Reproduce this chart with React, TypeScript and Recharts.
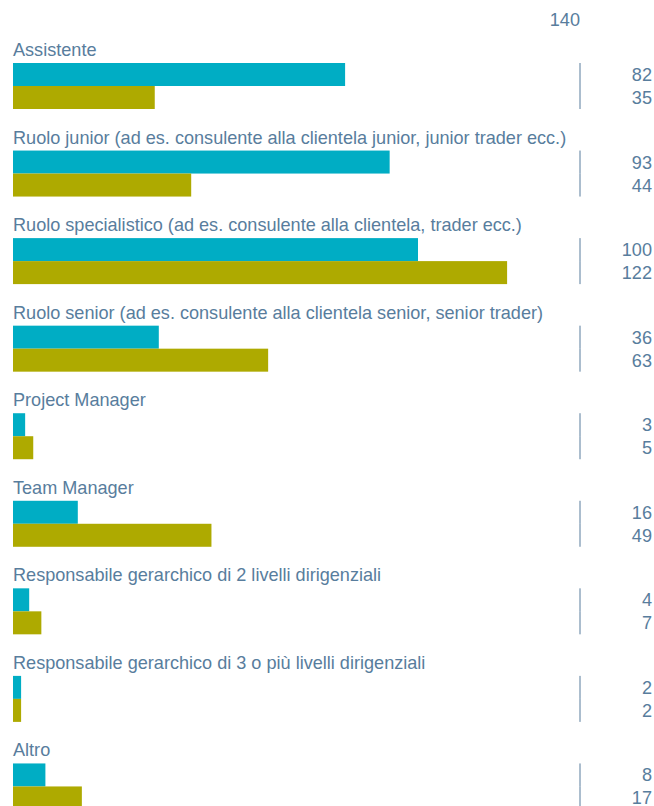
import { BarChart, Bar, XAxis, YAxis } from "recharts";

const categorie = [
    "Assistente",
    "Ruolo junior (ad es. consulente alla clientela junior, junior trader ecc.)",
    "Ruolo specialistico (ad es. consulente alla clientela, trader ecc.)",
    "Ruolo senior (ad es. consulente alla clientela senior, senior trader)",
    "Project Manager",
    "Team Manager",
    "Responsabile gerarchico di 2 livelli dirigenziali",
    "Responsabile gerarchico di 3 o più livelli dirigenziali",
    "Altro",
];

const serieA = [82, 93, 100, 36, 3, 16, 4, 2, 8];
const serieB = [35, 44, 122, 63, 5, 49, 7, 2, 17];

const assiTicks = [140];

const data = categorie.map((nome, i) => ({
    nome,
    a: serieA[i],
    b: serieB[i],
}));

const TESTO = "#587d9d";
const FONT = "'Liberation Sans', Arial, sans-serif";
const FS = 18.1;

// barra + tratto verticale a 140 + valore a destra (+ etichetta categoria sopra)
const makeShape = (fill: string, conEtichetta: boolean) => (props: any) => {
    const { x, y, width, height, value, background, payload } = props;
    const fine = background.x + background.width;
    return (
        <g>
            <rect x={x} y={y} width={width} height={height} fill={fill} />
            <line x1={fine} x2={fine} y1={y} y2={y + height} stroke={TESTO} strokeWidth={1} />
            <text
                x={fine + 72}
                y={y + height / 2 + 6.5}
                textAnchor="end"
                fill={TESTO}
                fontSize={FS}
                fontFamily={FONT}
            >
                {value}
            </text>
            {conEtichetta && (
                <text
                    x={background.x}
                    y={y - 7}
                    fill={TESTO}
                    fontSize={FS}
                    fontFamily={FONT}
                >
                    {payload.nome}
                </text>
            )}
        </g>
    );
};

const TickTop = (props: any) => {
    const { x, y, payload } = props;
    return (
        <text x={x} y={y - 8} textAnchor="end" fill={TESTO} fontSize={FS} fontFamily={FONT}>
            {payload.value}
        </text>
    );
};

export default function App() {
    return (
        <div
            style={{
                position: "absolute",
                left: 0,
                top: 0,
                width: 654,
                height: 806,
                overflow: "hidden",
                background: "#fff",
            }}
        >
            <BarChart
                width={654}
                height={840}
                data={data}
                layout="vertical"
                margin={{ top: 12, right: 74, bottom: 10, left: 13 }}
                barSize={23}
                barGap={0}
            >
                <XAxis
                    type="number"
                    orientation="top"
                    domain={[0, 140]}
                    ticks={assiTicks}
                    axisLine={false}
                    tickLine={false}
                    height={30}
                    tick={<TickTop />}
                />
                <YAxis type="category" dataKey="nome" hide width={0} />
                <Bar dataKey="a" isAnimationActive={false} shape={makeShape("#00adc4", true)} />
                <Bar dataKey="b" isAnimationActive={false} shape={makeShape("#aeaa00", false)} />
            </BarChart>
        </div>
    );
}
